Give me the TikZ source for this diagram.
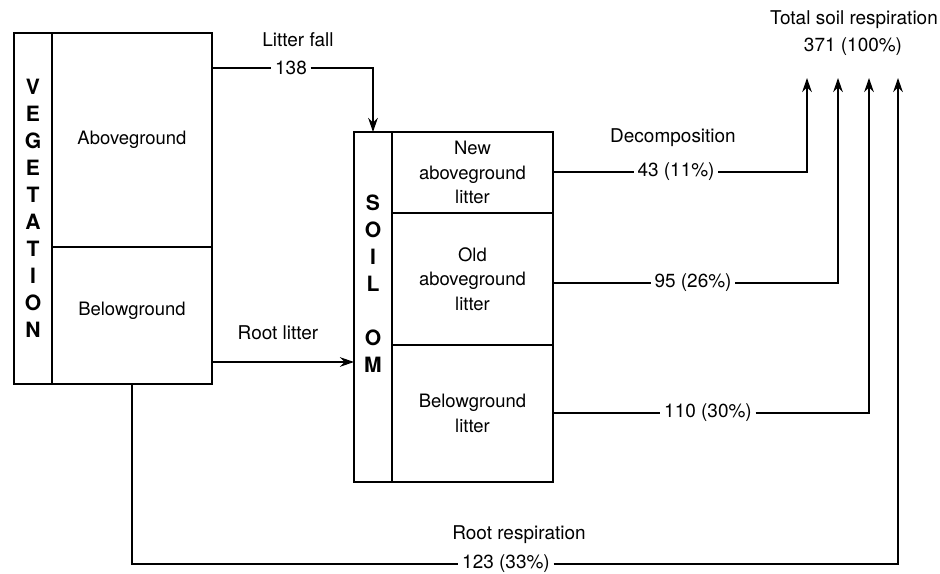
\documentclass[tikz,border=0pt]{standalone}
\usepackage{fontspec}
\setmainfont{TeX Gyre Heros}
\usetikzlibrary{arrows.meta, positioning}
\tikzset{
  box/.style={draw, line width=0.9pt, inner sep=0pt, outer sep=0pt,
              align=center, font=\fontsize{10.5}{13.9}\selectfont},
  column/.style={box, minimum width=0.76cm},
  letters/.style={align=center, inner sep=0pt,
                  font=\bfseries\fontsize{12}{15.4}\selectfont},
  flowlbl/.style={inner sep=2pt, font=\fontsize{10.8}{14}\selectfont},
  flow/.style={line width=0.9pt},
  into/.style={flow, -{Stealth[length=8pt,width=5.5pt]}}
}

\begin{document}
\begin{tikzpicture}[x=0.02cm, y=-0.02cm]
  \useasboundingbox (0,0) rectangle (940,574);
  % Vegetation
  \node[column, anchor=north west, minimum height=7.02cm] (vegcol) at (14,33) {};
  \node[letters] (veglbl) at (vegcol.center) {V\\E\\G\\E\\T\\A\\T\\I\\O\\N};
  \node[box, anchor=north west, minimum width=3.2cm, minimum height=4.28cm]
        (above) at (vegcol.north east) {Aboveground};
  \node[box, anchor=north west, minimum width=3.2cm, minimum height=2.74cm]
        (below) at (above.south west) {Belowground\\[-6pt]};
  % Soil OM
  \node[column, anchor=north west, minimum height=7.0cm] (soilcol) at (354,132) {};
  \node[letters] (soillbl) at (373,283.5) {S\\O\\I\\L\\[15.4pt]O\\M};
  \node[box, anchor=north west, minimum width=3.22cm, minimum height=1.62cm]
        (newlit) at (soilcol.north east) {New\\aboveground\\litter};
  \node[box, anchor=north west, minimum width=3.22cm, minimum height=2.64cm]
        (oldlit) at (newlit.south west) {Old\\aboveground\\litter};
  \node[box, anchor=north west, minimum width=3.22cm, minimum height=2.74cm]
        (belowlit) at (oldlit.south west) {Belowground\\litter};
  % Flow labels
  \node[flowlbl] (litterfall) at (298,40) {Litter fall};
  \node[flowlbl] (n138) at (291,68) {138};
  \node[flowlbl] (rootlitter) at (278,333) {Root litter};
  \node[flowlbl] (decomp) at (673,138) {Decomposition};
  \node[flowlbl] (n43) at (676,172) {43 (11\%)};
  \node[flowlbl] (n95) at (693,283) {95 (26\%)};
  \node[flowlbl] (n110) at (708,413) {110 (30\%)};
  \node[flowlbl] (rootresp) at (519,535) {Root respiration};
  \node[flowlbl] (n123) at (506,564) {123 (33\%)};
  \node[flowlbl] (total) at (854,20) {Total soil respiration};
  \node[flowlbl] (n371) at (853,47) {371 (100\%)};
  % Arrow ends
  \coordinate (t1) at (807,78);
  \coordinate (t2) at (838,78);
  \coordinate (t3) at (869,78);
  \coordinate (t4) at (898,78);
  \coordinate (rlstart) at (212,362);
  % Arrows
  \draw[flow] (n138.west -| above.east) -- (n138.west);
  \draw[into] (n138.east) -| (soilcol.north);
  \draw[into] (rlstart) -- (rlstart -| soilcol.west);
  \draw[flow] (n43.west -| newlit.east) -- (n43.west);
  \draw[into] (n43.east) -| (t1);
  \draw[flow] (n95.west -| oldlit.east) -- (n95.west);
  \draw[into] (n95.east) -| (t2);
  \draw[flow] (n110.west -| belowlit.east) -- (n110.west);
  \draw[into] (n110.east) -| (t3);
  \draw[flow] (below.south) |- (n123.west);
  \draw[into] (n123.east) -| (t4);
\end{tikzpicture}
\end{document}
